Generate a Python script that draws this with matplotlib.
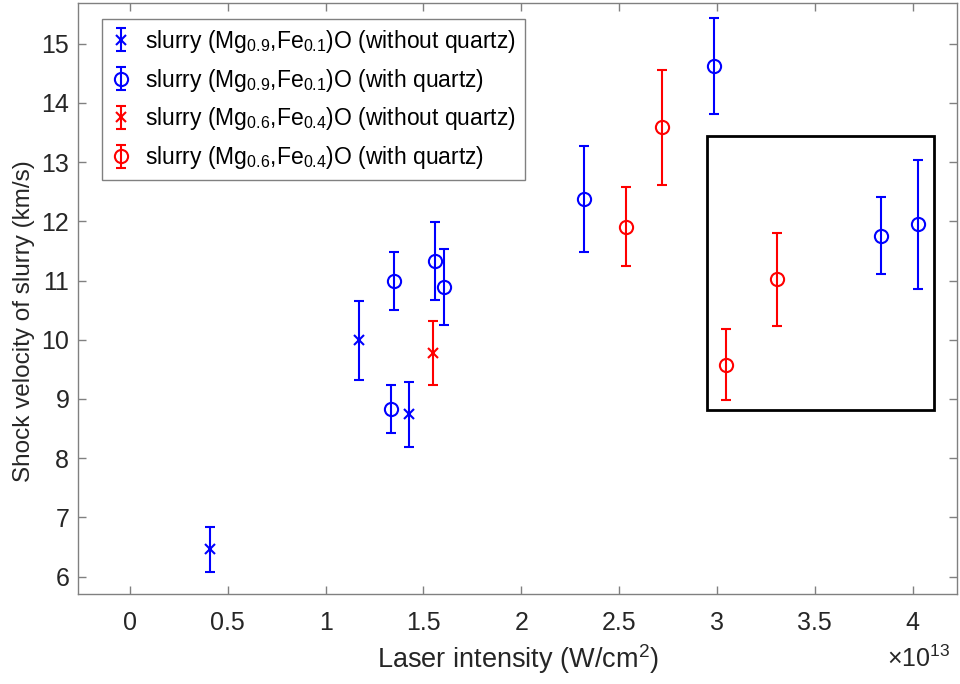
import matplotlib
matplotlib.use("Agg")
import matplotlib.pyplot as plt
from matplotlib.patches import Rectangle

plt.rcParams["font.family"] = ["Liberation Sans", "DejaVu Sans"]
plt.rcParams["mathtext.fontset"] = "custom"
plt.rcParams["mathtext.rm"] = "Liberation Sans"
plt.rcParams["mathtext.it"] = "Liberation Sans:italic"
plt.rcParams["mathtext.default"] = "regular"

# Laser intensity in units of 1e13 W/cm^2, shock velocity in km/s
mg09_noq_x = [0.409, 1.169, 1.428]
mg09_noq_y = [6.46, 9.99, 8.74]
mg09_noq_err = [0.38, 0.67, 0.55]

mg09_q_x = [1.336, 1.348, 1.559, 1.607, 2.318, 2.987, 3.838, 4.027]
mg09_q_y = [8.83, 10.99, 11.33, 10.89, 12.38, 14.63, 11.76, 11.95]
mg09_q_err = [0.40, 0.49, 0.66, 0.64, 0.89, 0.81, 0.65, 1.09]

mg06_noq_x = [1.548]
mg06_noq_y = [9.78]
mg06_noq_err = [0.54]

mg06_q_x = [2.536, 2.720, 3.047, 3.308]
mg06_q_y = [11.91, 13.59, 9.58, 11.02]
mg06_q_err = [0.67, 0.97, 0.60, 0.79]

# highlighted region (x0, y0, x1, y1) in data units
box = (2.951, 8.815, 4.110, 13.437)

fig = plt.figure(figsize=(9.6, 6.84), dpi=100)
ax = fig.add_axes([0.0816, 0.1311, 0.9157, 0.8639])

common = dict(linestyle="none", elinewidth=1.5, capsize=3.3, capthick=1.5,
              markeredgewidth=1.5, markerfacecolor="none")

ax.errorbar(mg09_noq_x, mg09_noq_y, yerr=mg09_noq_err, color="#0000ff",
            marker="x", markersize=6.5,
            label=r"slurry (Mg$_{0.9}$,Fe$_{0.1}$)O (without quartz)", **common)
ax.errorbar(mg09_q_x, mg09_q_y, yerr=mg09_q_err, color="#0000ff",
            marker="o", markersize=9.5,
            label=r"slurry (Mg$_{0.9}$,Fe$_{0.1}$)O (with quartz)", **common)
ax.errorbar(mg06_noq_x, mg06_noq_y, yerr=mg06_noq_err, color="#ff0000",
            marker="x", markersize=6.5,
            label=r"slurry (Mg$_{0.6}$,Fe$_{0.4}$)O (without quartz)", **common)
ax.errorbar(mg06_q_x, mg06_q_y, yerr=mg06_q_err, color="#ff0000",
            marker="o", markersize=9.5,
            label=r"slurry (Mg$_{0.6}$,Fe$_{0.4}$)O (with quartz)", **common)

ax.add_patch(Rectangle((box[0], box[1]), box[2] - box[0], box[3] - box[1],
                       fill=False, edgecolor="black", linewidth=2.0, zorder=5))

ax.set_xlim(-0.264, 4.229)
ax.set_ylim(5.70, 15.68)
ax.set_xticks([0, 0.5, 1, 1.5, 2, 2.5, 3, 3.5, 4])
ax.set_xticklabels(["0", "0.5", "1", "1.5", "2", "2.5", "3", "3.5", "4"])
ax.set_yticks(range(6, 16))

axis_grey = "#808080"
text_grey = "#262626"
for s in ax.spines.values():
    s.set_color(axis_grey)
    s.set_linewidth(1.0)
ax.tick_params(direction="in", top=True, right=True, length=6, width=1.0,
               color=axis_grey, labelcolor=text_grey, labelsize=18)
ax.tick_params(axis="x", pad=12)
ax.tick_params(axis="y", pad=6.5)

ax.set_xlabel("Laser intensity (W/cm$^{2}$)", fontsize=19.5, color=text_grey,
              labelpad=5)
ax.set_ylabel("Shock velocity of slurry (km/s)", fontsize=17.5, color=text_grey)
ax.yaxis.set_label_coords(-0.049, 0.462)
fig.text(0.924, 0.018, r"$\times$10$^{13}$", fontsize=18, color=text_grey,
         ha="left", va="bottom")

leg = ax.legend(loc="upper left", bbox_to_anchor=(0.0266, 0.973),
                borderaxespad=0, fancybox=False, fontsize=16.5,
                handlelength=1.0, handletextpad=0.55, labelspacing=0.52,
                borderpad=0.36, framealpha=1)
leg.get_frame().set_edgecolor(axis_grey)
leg.get_frame().set_linewidth(1.0)
for t in leg.get_texts():
    t.set_color("black")

fig.savefig("out.png", dpi=100)
